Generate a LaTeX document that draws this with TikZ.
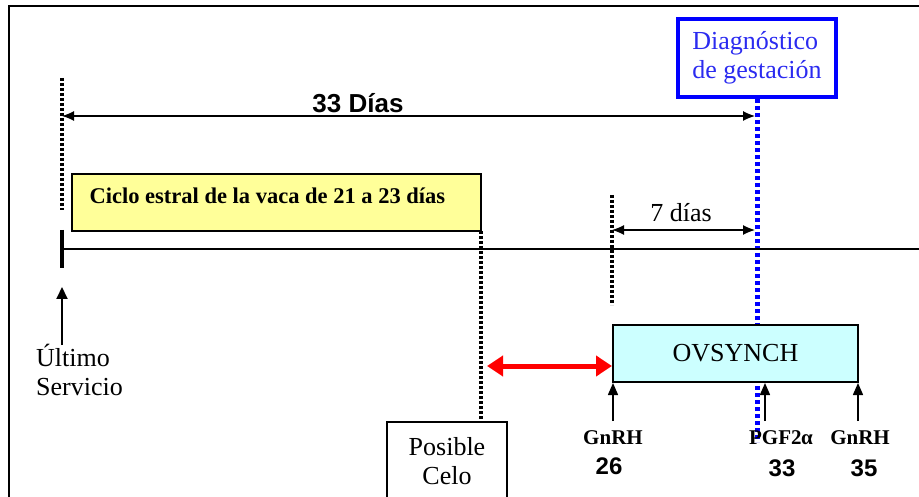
\documentclass[tikz,border=0pt]{standalone}
\usepackage{fontspec}
\setmainfont{Liberation Serif}
\setsansfont{Liberation Sans}
\usetikzlibrary{arrows.meta}
\definecolor{boxyellow}{HTML}{FFFF99}
\definecolor{boxcyan}{HTML}{CCFFFF}
\definecolor{diagblue}{HTML}{0000FF}
\definecolor{diagtext}{HTML}{2B2BF0}
\begin{document}
\begin{tikzpicture}[x=1pt,y=-1pt,
  serifreg/.style={font=\fontsize{26}{29}\selectfont},
  serifbold/.style={font=\fontsize{21}{24}\selectfont\bfseries},
  sansnum/.style={font=\fontsize{24}{27}\selectfont\sffamily\bfseries},
  blackdot/.style={line width=4pt, dash pattern=on 3pt off 2pt},
  bluedot/.style={line width=5pt, diagblue, dash pattern=on 4pt off 3pt},
  dimarrow/.style={line width=1.2pt, {Latex[length=12pt,width=10pt]}-{Latex[length=12pt,width=10pt]}},
  uparrow/.style={line width=1.5pt, -{Triangle[length=12pt,width=10pt]}},
  redarrow/.style={line width=5pt, red, {Triangle[length=16pt,width=20pt]}-{Triangle[length=16pt,width=20pt]}},
  plainbox/.style={draw, line width=2pt, inner sep=0pt}
]
\useasboundingbox (0,0) rectangle (919,497);
% outer frame
\draw[line width=2.5pt] (9,500) -- (9,6) -- (922,6);

% left dotted marker and 33 dias
\coordinate (d0top) at (62,78);
\coordinate (d0bot) at (62,210);
\draw[blackdot] (d0top) -- (d0bot);

% diagnostico box
\node[draw=diagblue, line width=4pt, minimum width=158pt, minimum height=78pt,
      serifreg, text=diagtext, align=left, inner sep=0pt] (diag) at (757,58)
      {Diagnóstico\\de gestación};
\coordinate (bluebot) at (757,442);
\draw[bluedot] (diag.south -| bluebot) -- (bluebot);

\coordinate (a33l) at (62,116);
\coordinate (a33r) at (755,116);
\draw[dimarrow] (a33l) -- (a33r);
\node[font=\fontsize{26}{29}\selectfont\sffamily\bfseries] (l33) at (358,103) {33 Días};

% cycle box
\node[plainbox, fill=boxyellow, minimum width=409pt, minimum height=57pt,
      anchor=north west] (ciclo) at (71,173) {};
\node[font=\fontsize{22.5}{26}\selectfont\bfseries, anchor=west] (ciclotxt) at (86,196)
      {Ciclo estral de la vaca de 21 a 23 días};

% timeline
\coordinate (tl0) at (62,249);
\coordinate (tl1) at (925,249);
\draw[line width=2.2pt] (tl0) -- (tl1);
\coordinate (tick0) at (62,230);
\coordinate (tick1) at (62,268);
\draw[line width=3.5pt] (tick0) -- (tick1);

% ultimo servicio
\node[serifreg, align=left, anchor=north west, inner sep=0pt] (ultimo) at (36,344)
      {Último\\Servicio};
\coordinate (usbot) at (62,345);
\coordinate (ustop) at (62,287);
\draw[line width=2pt, -{Triangle[length=12pt,width=11pt]}] (usbot) -- (ustop);

% posible celo
\node[plainbox, minimum width=120pt, minimum height=78pt, anchor=north, serifreg, align=center]
      (celo) at (447,421) {Posible\\Celo};
\coordinate (celodot) at (481,231);
\draw[blackdot] (celodot) -- (celodot |- celo.north);

% 7 dias
\coordinate (d7top) at (612,195);
\coordinate (d7bot) at (612,305);
\draw[blackdot] (d7top) -- (d7bot);
\coordinate (a7l) at (612,230);
\coordinate (a7r) at (755,230);
\draw[dimarrow] (a7l) -- (a7r);
\node[serifreg] (l7) at (681,213) {7 días};

% ovsynch
\node[plainbox, fill=boxcyan, minimum width=245pt, minimum height=57pt, serifreg]
      (ovs) at (735.5,353.5) {OVSYNCH};

% red arrow
\coordinate (redl) at (487,366);
\draw[redarrow] (redl) -- (ovs.west |- redl);

% injection arrows
\coordinate (i1) at (613,421);
\coordinate (i2) at (765,421);
\coordinate (i3) at (858,421);
\draw[uparrow] (i1) -- (i1 |- ovs.south);
\draw[uparrow] (i2) -- (i2 |- ovs.south);
\draw[uparrow] (i3) -- (i3 |- ovs.south);

\node[serifbold] (g1) at (613,438) {GnRH};
\node[sansnum] (n1) at (609,466) {26};
\node[serifbold] (p2) at (781,438) {PGF2\kern-0.5pt α};
\node[sansnum] (n2) at (782,468) {33};
\node[serifbold] (g3) at (860,438) {GnRH};
\node[sansnum] (n3) at (864,468) {35};
\end{tikzpicture}
\end{document}
